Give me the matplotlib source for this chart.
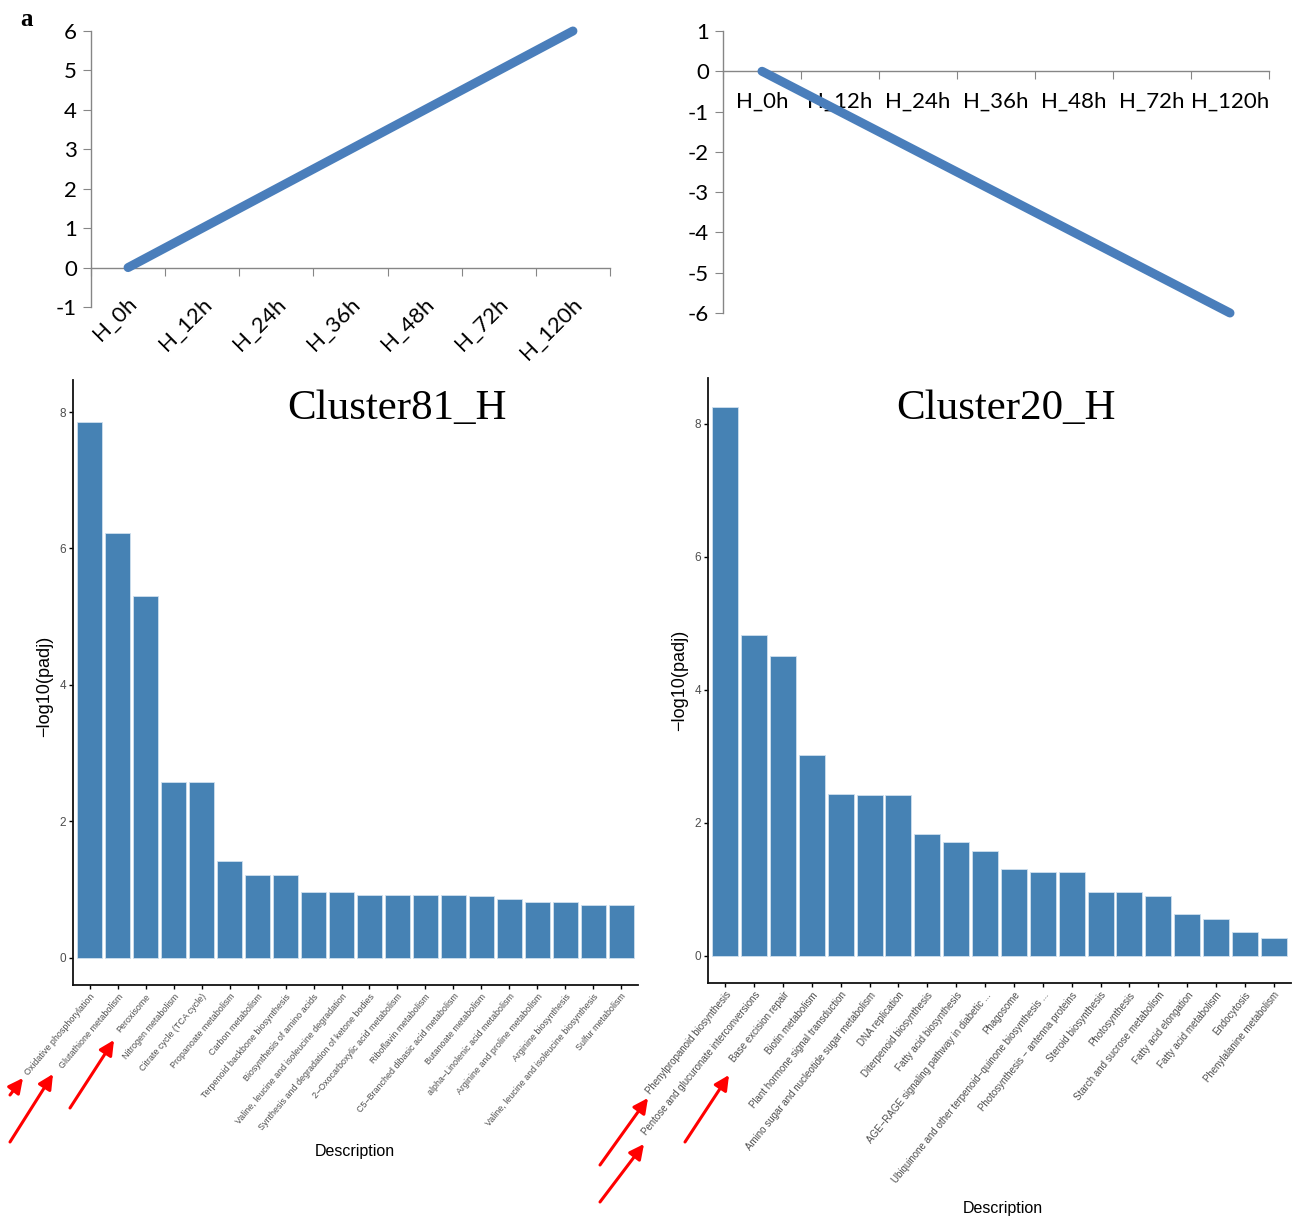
import matplotlib
matplotlib.use('Agg')
import numpy as np
import matplotlib.pyplot as plt
from matplotlib.patches import FancyArrowPatch

plt.rcParams['font.family'] = ['Liberation Sans', 'DejaVu Sans']
plt.rcParams['axes.unicode_minus'] = False

# 趋势图数据
TIMES = ['H_0h', 'H_12h', 'H_24h', 'H_36h', 'H_48h', 'H_72h', 'H_120h']
UP_VALUES = [0, 1, 2, 3, 4, 5, 6]
DOWN_VALUES = [0, -1, -2, -3, -4, -5, -6]

# Cluster81_H 富集结果
C81_TERMS = [
    'Oxidative phosphorylation', 'Glutathione metabolism', 'Peroxisome',
    'Nitrogen metabolism', 'Citrate cycle (TCA cycle)', 'Propanoate metabolism',
    'Carbon metabolism', 'Terpenoid backbone biosynthesis',
    'Biosynthesis of amino acids', 'Valine, leucine and isoleucine degradation',
    'Synthesis and degradation of ketone bodies',
    '2\u2212Oxocarboxylic acid metabolism', 'Riboflavin metabolism',
    'C5\u2212Branched dibasic acid metabolism', 'Butanoate metabolism',
    'alpha\u2212Linolenic acid metabolism', 'Arginine and proline metabolism',
    'Arginine biosynthesis', 'Valine, leucine and isoleucine biosynthesis',
    'Sulfur metabolism',
]
C81_VALUES = [7.85, 6.22, 5.30, 2.57, 2.57, 1.42, 1.21, 1.21, 0.97, 0.97,
              0.92, 0.92, 0.92, 0.92, 0.90, 0.86, 0.81, 0.81, 0.77, 0.77]

# Cluster20_H 富集结果
C20_TERMS = [
    'Phenylpropanoid biosynthesis', 'Pentose and glucuronate interconversions',
    'Base excision repair', 'Biotin metabolism',
    'Plant hormone signal transduction',
    'Amino sugar and nucleotide sugar metabolism', 'DNA replication',
    'Diterpenoid biosynthesis', 'Fatty acid biosynthesis',
    'AGE\u2212RAGE signaling pathway in diabetic ...', 'Phagosome',
    'Ubiquinone and other terpenoid\u2212quinone biosynthesis ...',
    'Photosynthesis \u2212 antenna proteins', 'Steroid biosynthesis',
    'Photosynthesis', 'Starch and sucrose metabolism', 'Fatty acid elongation',
    'Fatty acid metabolism', 'Endocytosis', 'Phenylalanine metabolism',
]
C20_VALUES = [8.26, 4.83, 4.51, 3.02, 2.44, 2.42, 2.42, 1.83, 1.71, 1.58,
              1.31, 1.26, 1.26, 0.96, 0.96, 0.90, 0.63, 0.56, 0.36, 0.26]

W, H = 1293, 1220
LINE_C = '#4a7ebb'
AX_GRAY = '#868686'
BAR_C = '#4682b4'
TOP_FONT = ['Lato', 'DejaVu Sans']


def rect(x0, y0, x1, y1):
    # 像素框 -> figure 坐标
    return [x0 / W, 1 - y1 / H, (x1 - x0) / W, (y1 - y0) / H]


def trend_axes(ax, values, ymin, ymax, labels_at_bottom):
    n = len(TIMES)
    ax.plot(range(n), values, color=LINE_C, lw=6.5, solid_capstyle='round', clip_on=False, zorder=3)
    ax.set_xlim(-0.5, n - 0.5)
    ax.set_ylim(ymin, ymax)
    for s in ('top', 'right'):
        ax.spines[s].set_visible(False)
    for s in ('left', 'bottom'):
        ax.spines[s].set_color(AX_GRAY)
        ax.spines[s].set_linewidth(1.0)
    ax.spines['bottom'].set_position(('data', 0))
    ax.set_yticks(range(ymin, ymax + 1))
    ax.tick_params(axis='y', direction='out', length=6, color=AX_GRAY, labelsize=16, pad=4)
    for t in ax.get_yticklabels():
        t.set_family(TOP_FONT)
    ax.set_xticks(np.arange(-0.5, n, 1.0))
    ax.set_xticklabels([])
    ax.tick_params(axis='x', which='major', direction='out', length=6, color=AX_GRAY)
    if labels_at_bottom:
        sec = ax.secondary_xaxis('bottom')
        sec.set_xticks(np.arange(n) + 0.08, TIMES)
        sec.tick_params(length=0, labelsize=16, pad=-4.5)
        sec.spines['bottom'].set_visible(False)
        for t in sec.get_xticklabels():
            t.set_rotation(45)
            t.set_ha('right')
            t.set_va('center')
            t.set_rotation_mode('anchor')
            t.set_family(TOP_FONT)
    else:
        ax.set_xticks(range(n), TIMES, minor=True)
        ax.tick_params(axis='x', which='minor', length=0, labelsize=16, pad=15)
        for t in ax.get_xticklabels(minor=True):
            t.set_family(TOP_FONT)


def bar_axes(ax, terms, values, ylim, rot, fs):
    x = np.arange(len(terms))
    ax.bar(x, values, width=0.9, color=BAR_C, edgecolor='#cfe0ee', linewidth=0.6)
    ax.set_xlim(-0.6, len(terms) - 0.4)
    ax.set_ylim(*ylim)
    for s in ('top', 'right'):
        ax.spines[s].set_visible(False)
    for s in ('left', 'bottom'):
        ax.spines[s].set_linewidth(1.3)
        ax.spines[s].set_color('#111111')
    ax.set_yticks([0, 2, 4, 6, 8])
    ax.set_xticks(x)
    ax.set_xticklabels(terms, rotation=rot, ha='right', rotation_mode='anchor')
    ax.tick_params(axis='y', length=3, width=1, labelsize=8.5, labelcolor='#4d4d4d', pad=2)
    ax.tick_params(axis='x', length=3, width=1, labelsize=fs, labelcolor='#4d4d4d', pad=2)


fig = plt.figure(figsize=(W / 100, H / 100), dpi=100)

ax1 = fig.add_axes(rect(91, 31, 610, 307))
trend_axes(ax1, UP_VALUES, -1, 6, True)

ax2 = fig.add_axes(rect(723, 31, 1269, 313))
trend_axes(ax2, DOWN_VALUES, -6, 1, False)

ax3 = fig.add_axes(rect(73, 380, 638, 985))
bar_axes(ax3, C81_TERMS, C81_VALUES, (-0.40, 8.47), 50, 6.4)
ax3.set_ylabel('\u2212log10(padj)', fontsize=13)
ax3.yaxis.set_label_coords(-0.036, 0.494)
ax3.set_xlabel('Description', fontsize=11.5)
ax3.xaxis.set_label_coords(0.499, -0.262)

ax4 = fig.add_axes(rect(708, 378, 1291, 983))
bar_axes(ax4, C20_TERMS, C20_VALUES, (-0.41, 8.69), 51, 7)
ax4.set_ylabel('\u2212log10(padj)', fontsize=13)
ax4.yaxis.set_label_coords(-0.034, 0.50)
ax4.set_xlabel('Description', fontsize=11.5)
ax4.xaxis.set_label_coords(0.506, -0.36)

serif = ['Liberation Serif', 'DejaVu Serif']
fig.text(20 / W, 1 - 20 / H, 'a', family=serif, fontweight='bold', fontsize=18, va='center', ha='left')
fig.text(397 / W, 1 - 409 / H, 'Cluster81_H', family=serif, fontsize=31, ha='center', va='center')
fig.text(1006 / W, 1 - 409 / H, 'Cluster20_H', family=serif, fontsize=31, ha='center', va='center')

# 红色箭头标注
ARROWS = [((10, 1095), (23, 1078)), ((10, 1142), (53, 1074)), ((70, 1108), (114, 1040)),
          ((600, 1165), (648, 1098)), ((600, 1202), (644, 1144)), ((685, 1142), (729, 1075))]
for (x0, y0), (x1, y1) in ARROWS:
    fig.add_artist(FancyArrowPatch((x0 / W, 1 - y0 / H), (x1 / W, 1 - y1 / H),
                                   transform=fig.transFigure, arrowstyle='-|>',
                                   mutation_scale=22, color='red', lw=2.2,
                                   shrinkA=0, shrinkB=0))

fig.savefig('out.png', dpi=100)
